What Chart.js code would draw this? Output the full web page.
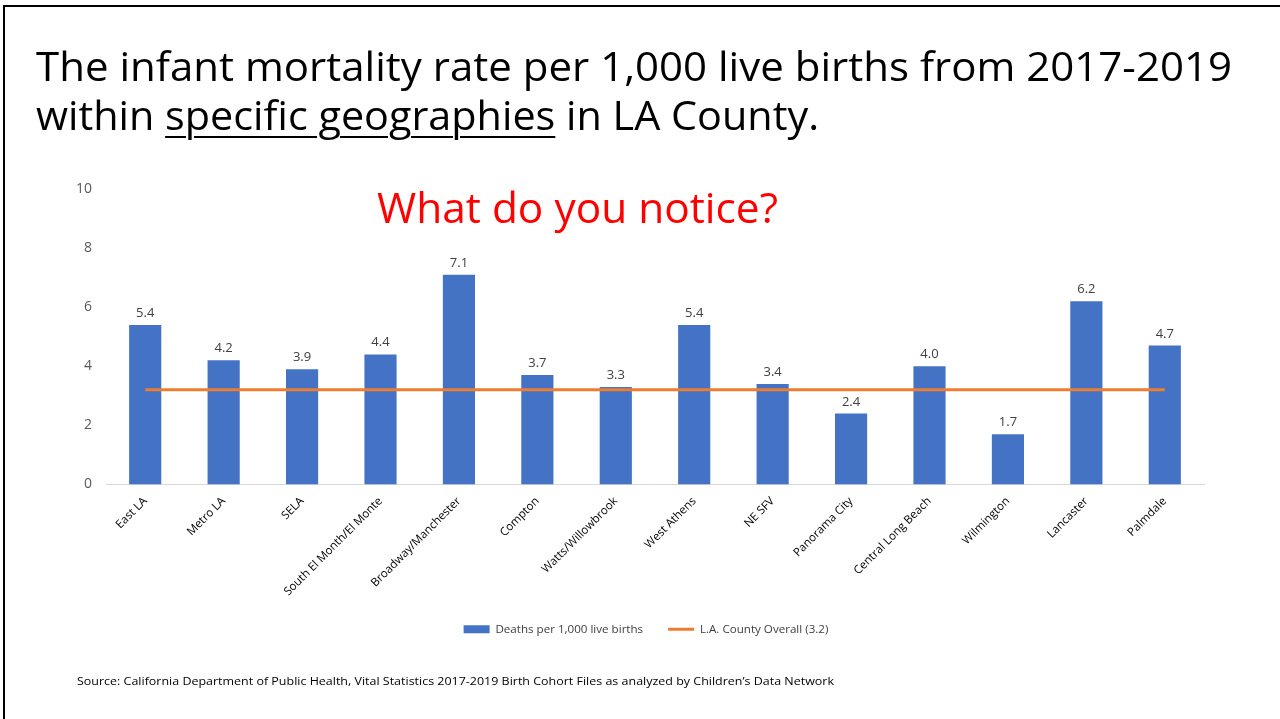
<!DOCTYPE html>
<html>
<head>
<meta charset="utf-8">
<script src="https://cdn.jsdelivr.net/npm/chart.js@4.4.1/dist/chart.umd.min.js"></script>
<style>
  html, body { margin:0; padding:0; background:#fff; width:1280px; height:719px; overflow:hidden; }
  #frame { position:absolute; left:3px; top:5px; width:1290px; height:730px; border-left:2px solid #000; border-top:2px solid #000; box-sizing:border-box; }
  #wrap { position:absolute; left:0; top:0; width:1280px; height:719px; }
  .txt { position:absolute; white-space:nowrap; line-height:1; font-family:'Open Sans', sans-serif; transform-origin:0 0; }
  .t1 { font-size:41px; color:#000; }
  .u { text-decoration: underline; text-decoration-thickness: 2px; text-underline-offset: 6px; }
</style>
</head>
<body>
<div id="wrap"><canvas id="c" width="1280" height="719"></canvas></div>
<div id="frame"></div>
<div class="txt t1" data-w="1196" style="left:36px; top:45px;">The infant mortality rate per 1,000 live births from 2017-2019</div>
<div class="txt t1" data-w="783" style="left:36px; top:94px;">within <span class="u">specific geographies</span> in LA County.</div>
<div class="txt" data-w="401" style="left:377px; top:186px; font-size:42px; color:#FF0000;">What do you notice?</div>
<div class="txt" data-w="757" style="left:77px; top:675px; font-size:11px; color:#000;">Source: California Department of Public Health, Vital Statistics 2017-2019 Birth Cohort Files as analyzed by Children’s Data Network</div>
<script>
const categories = ["East LA", "Metro LA", "SELA", "South El Month/El Monte", "Broadway/Manchester", "Compton", "Watts/Willowbrook", "West Athens", "NE SFV", "Panorama City", "Central Long Beach", "Wilmington", "Lancaster", "Palmdale"];
const deathsPer1000 = [5.4, 4.2, 3.9, 4.4, 7.1, 3.7, 3.3, 5.4, 3.4, 2.4, 4.0, 1.7, 6.2, 4.7];
const countyOverall = [3.2, 3.2, 3.2, 3.2, 3.2, 3.2, 3.2, 3.2, 3.2, 3.2, 3.2, 3.2, 3.2, 3.2];
const yTicks = [0, 2, 4, 6, 8, 10];
const seriesNames = ["Deaths per 1,000 live births", "L.A. County Overall (3.2)"];

document.querySelectorAll('.txt[data-w]').forEach(el => {
  const w = el.getBoundingClientRect().width;
  el.style.transform = 'scaleX(' + (parseFloat(el.dataset.w) / w) + ')';
});

Chart.defaults.font.family = "'Open Sans', sans-serif";

const barLabels = {
  id: 'barLabels',
  afterDatasetsDraw(chart) {
    const meta = chart.getDatasetMeta(1);
    const ctx = chart.ctx;
    ctx.save();
    ctx.font = "13px 'Open Sans', sans-serif";
    ctx.fillStyle = '#404040';
    ctx.textAlign = 'center';
    ctx.textBaseline = 'alphabetic';
    meta.data.forEach((bar, i) => {
      ctx.fillText(deathsPer1000[i].toFixed(1), bar.x, bar.y - 8);
    });
    ctx.restore();
  }
};

const legendShift = {
  id: 'legendShift',
  beforeDraw(chart) {
    if (chart.legend && !chart.legend._shifted) {
      chart.legend.left += 14;
      chart.legend.right += 14;
      chart.legend._shifted = true;
    }
  },
  afterLayout(chart) { if (chart.legend) chart.legend._shifted = false; }
};

new Chart(document.getElementById('c'), {
  data: {
    labels: categories,
    datasets: [
      {
        type: 'line', label: seriesNames[1], data: countyOverall,
        borderColor: '#ED7D31', backgroundColor: '#ED7D31', borderWidth: 3,
        pointRadius: 0, fill: false, order: 0
      },
      {
        type: 'bar', label: seriesNames[0], data: deathsPer1000,
        backgroundColor: '#4472C4', borderWidth: 0,
        categoryPercentage: 1.0, barPercentage: 0.41, order: 1
      }
    ]
  },
  options: {
    responsive: false, animation: false,
    layout: { padding: { left: 60, right: 76, top: 189, bottom: 74 } },
    plugins: {
      tooltip: { enabled: false },
      legend: {
        position: 'bottom',
        labels: {
          usePointStyle: true, pointStyleWidth: 26, boxHeight: 8,
          padding: 25, color: '#404040', font: { size: 11.6 },
          generateLabels() {
            return [
              { text: seriesNames[0], pointStyle: 'rect', fillStyle: '#4472C4', strokeStyle: '#4472C4', lineWidth: 0, datasetIndex: 1, fontColor: '#404040' },
              { text: seriesNames[1], pointStyle: 'line', fillStyle: '#ED7D31', strokeStyle: '#ED7D31', lineWidth: 3, datasetIndex: 0, fontColor: '#404040' }
            ];
          }
        }
      }
    },
    scales: {
      x: {
        grid: { display: false, drawTicks: false },
        border: { display: true, color: '#D9D9D9', width: 1 },
        ticks: { minRotation: 45, maxRotation: 45, autoSkip: false, color: '#000', font: { size: 11.5 }, padding: 10 },
        afterFit(s) { s.height = 114; }
      },
      y: {
        min: 0, max: 10,
        grid: { display: false, drawTicks: false },
        border: { display: false },
        afterBuildTicks(s) { s.ticks = yTicks.map(v => ({ value: v })); },
        ticks: { color: '#595959', font: { size: 14 }, padding: 14 },
        afterFit(s) { s.width = 46; }
      }
    }
  },
  plugins: [barLabels, legendShift]
});
</script>
</body>
</html>
